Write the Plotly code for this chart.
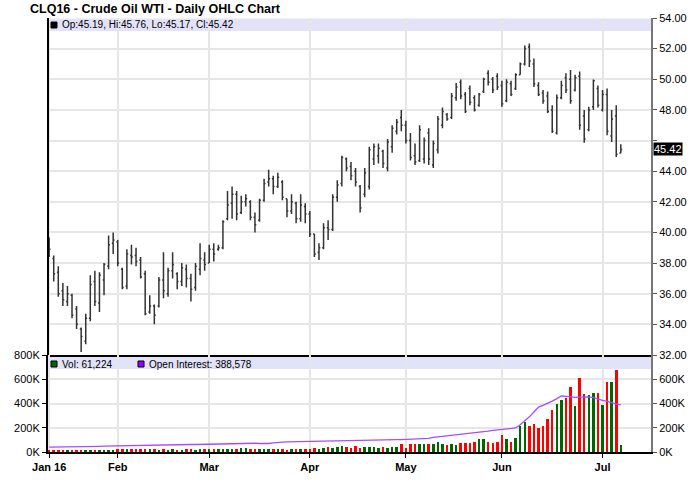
import pandas as pd
import plotly.graph_objects as go

# ---------------- data ----------------
holidays = ["2016-01-18", "2016-02-15", "2016-03-25", "2016-05-30", "2016-07-04"]
dates = [d.strftime("%Y-%m-%d") for d in pd.bdate_range("2016-01-08", "2016-07-08")
         if d.strftime("%Y-%m-%d") not in holidays]

opens = [39.5, 38.3, 37.4, 36.2, 35.5, 35.9, 35.0, 33.7, 32.9, 34.4, 36.8, 35.4, 36.9, 37.8, 39.3,
         39.4, 37.6, 36.5, 38.5, 38.5, 38.2, 37.3, 34.8, 35.2, 35.2, 36.9, 36.0, 37.5, 37.3, 36.8,
         37.6, 37.0, 36.4, 37.6, 38.2, 38.0, 38.9, 38.9, 39.0, 40.9, 41.9, 42.5, 41.3, 42.0, 42.0,
         41.0, 40.8, 42.1, 43.3, 43.5, 43.0, 43.3, 42.2, 41.4, 41.9, 40.9, 41.7, 41.2, 39.9, 38.7,
         39.0, 40.3, 40.2, 42.3, 43.2, 44.8, 44.3, 44.0, 43.0, 42.5, 43.0, 44.8, 45.0, 45.3, 44.2,
         45.6, 46.6, 47.5, 47.0, 46.0, 45.0, 44.7, 44.8, 46.5, 44.4, 45.4, 47.0, 47.7, 47.5, 48.8,
         49.8, 49.0, 49.4, 48.8, 48.3, 49.2, 50.4, 50.0, 50.2, 49.6, 48.6, 49.7, 49.4, 50.3, 51.0,
         52.1, 51.0, 49.6, 49.1, 48.9, 48.0, 46.5, 48.8, 50.1, 50.0, 49.3, 50.2, 47.6, 46.7, 48.2,
         49.4, 48.0, 49.0, 46.3, 47.6, 45.19]
highs = [39.67, 38.5, 37.8, 36.7, 36.5, 36.0, 35.2, 33.8, 34.7, 37.2, 37.5, 37.4, 38.0, 39.8, 40.0,
         39.5, 37.7, 38.9, 39.2, 39.0, 38.4, 37.5, 35.9, 35.3, 37.1, 38.7, 37.7, 38.7, 37.4, 38.0,
         37.9, 37.3, 38.0, 39.3, 38.7, 39.2, 39.3, 39.2, 40.8, 42.7, 43.0, 42.7, 42.4, 42.5, 42.1,
         41.3, 42.2, 43.5, 44.1, 43.7, 43.9, 43.4, 42.2, 42.5, 42.0, 42.5, 41.9, 41.4, 39.9, 39.3,
         40.6, 40.8, 42.5, 43.4, 45.0, 44.9, 44.6, 44.2, 43.1, 44.2, 45.6, 45.8, 45.8, 45.4, 46.1,
         47.0, 47.4, 48.0, 47.3, 46.5, 45.8, 47.0, 46.2, 46.8, 46.0, 47.6, 48.15, 47.8, 49.1, 49.76,
         49.98, 49.17, 49.6, 48.96, 49.1, 50.1, 50.59, 50.15, 50.4, 49.9, 50.0, 49.9, 50.4, 51.1, 52.2,
         52.33, 51.35, 49.8, 49.3, 49.2, 48.3, 49.0, 49.9, 50.4, 50.6, 50.3, 50.5, 48.0, 48.2, 49.98,
         49.6, 49.3, 49.4, 48.0, 48.3, 45.76]
lows = [38.4, 36.8, 35.8, 35.2, 35.2, 34.4, 33.7, 32.2, 32.7, 34.2, 35.2, 34.8, 35.9, 37.6, 38.6,
        37.8, 36.3, 36.3, 37.9, 37.8, 37.0, 34.6, 34.7, 34.0, 35.1, 35.7, 35.8, 37.0, 36.3, 36.5,
        36.4, 35.5, 36.2, 37.2, 37.5, 38.0, 38.1, 38.8, 38.9, 40.8, 40.9, 40.8, 41.2, 41.7, 40.8,
        40.0, 40.7, 42.0, 43.0, 42.5, 42.9, 42.1, 41.0, 41.2, 40.6, 40.7, 40.6, 39.7, 38.4, 38.2,
        38.9, 39.5, 40.1, 42.0, 43.0, 44.0, 43.4, 43.0, 41.3, 42.3, 42.8, 44.4, 44.5, 44.2, 44.0,
        45.2, 46.4, 46.6, 45.8, 44.7, 44.4, 44.6, 44.5, 44.4, 44.2, 45.15, 46.8, 47.3, 47.4, 48.6,
        48.7, 47.8, 48.3, 47.9, 48.2, 49.1, 49.6, 49.1, 49.3, 48.2, 48.5, 48.9, 49.3, 50.3, 50.9,
        50.8, 49.5, 48.9, 48.4, 47.8, 46.5, 46.4, 48.7, 49.1, 48.4, 49.2, 46.7, 45.85, 46.6, 48.0,
        48.15, 47.9, 46.35, 45.9, 44.93, 45.17]
closes = [38.9, 37.3, 36.0, 35.6, 36.0, 34.6, 34.0, 33.2, 34.4, 36.6, 35.5, 37.2, 37.9, 39.2, 39.5,
          38.0, 36.4, 38.6, 38.4, 38.1, 37.1, 34.7, 35.2, 34.6, 36.9, 36.2, 37.5, 37.9, 36.8, 37.7,
          37.0, 36.3, 37.8, 38.3, 37.9, 38.9, 38.6, 39.0, 40.7, 41.8, 42.5, 41.2, 42.0, 42.2, 41.0,
          40.5, 42.1, 43.2, 43.5, 43.0, 43.6, 42.3, 41.4, 42.0, 40.9, 41.8, 41.2, 39.9, 38.6, 39.0,
          40.3, 40.2, 42.3, 43.1, 44.9, 44.2, 43.7, 43.3, 41.6, 43.9, 45.4, 45.6, 45.5, 44.5, 45.9,
          46.8, 47.2, 47.0, 46.0, 44.9, 44.6, 46.7, 46.0, 44.8, 45.8, 47.4, 47.9, 47.4, 48.9, 49.5,
          48.9, 47.9, 48.5, 48.0, 49.0, 50.0, 49.8, 49.3, 49.5, 48.4, 49.8, 49.0, 50.3, 51.0, 52.0,
          51.2, 49.7, 49.0, 48.6, 47.9, 46.6, 48.8, 49.6, 49.3, 48.6, 50.1, 47.0, 46.1, 48.0, 49.9,
          48.3, 49.0, 46.6, 47.4, 45.1, 45.42]

# volume (contracts)
volume = [12000, 14000, 13000, 18000, 12000, 15000, 16000, 14000, 12000, 14000, 16000, 15000, 13000, 17000, 15000,
          22000, 23000, 22000, 24000, 24000, 23000, 24000, 22000, 21000, 20000, 21000, 20000, 23000, 19000, 20000,
          21000, 22000, 20000, 21000, 22000, 26000, 24000, 26000, 28000, 25000, 27000, 28000, 30000, 30000, 22000,
          24000, 26000, 22000, 28000, 24000, 22000, 23000, 18000, 22000, 23000, 24000, 25000, 26000, 30000, 28000,
          36000, 42000, 34000, 45000, 47000, 42000, 31000, 52000, 36000, 42000, 42000, 42000, 29000, 42000, 36000,
          42000, 42000, 63000, 36000, 63000, 63000, 70000, 70000, 70000, 63000, 86000, 70000, 57000, 63000, 57000,
          78000, 78000, 78000, 86000, 104000, 104000, 86000, 73000, 86000, 138000, 104000, 86000, 117000, 211000, 250000,
          214000, 230000, 198000, 216000, 274000, 350000, 396000, 433000, 446000, 537000, 381000, 613000, 477000, 469000, 485000,
          485000, 391000, 576000, 576000, 673000, 61224]

# open interest
open_interest = [41000, 41000, 42000, 42000, 43000, 43000, 44000, 44000, 45000, 45000, 46000, 47000, 48000, 49000, 50000,
                 52000, 53000, 54000, 55000, 55000, 56000, 57000, 57000, 58000, 58000, 59000, 59000, 60000, 60000, 61000,
                 61000, 62000, 62000, 63000, 64000, 66000, 67000, 68000, 69000, 70000, 71000, 72000, 73000, 74000, 74000,
                 72000, 70000, 69000, 70000, 75000, 80000, 82000, 83000, 84000, 85000, 86000, 87000, 89000, 90000, 90000,
                 91000, 91000, 92000, 93000, 94000, 95000, 96000, 97000, 98000, 98000, 99000, 99000, 100000, 100000, 101000,
                 101000, 102000, 102000, 104000, 105000, 106000, 107000, 108000, 113000, 120000, 124000, 128000, 132000, 136000, 140000,
                 144000, 148000, 152000, 156000, 161000, 166000, 172000, 178000, 183000, 188000, 192000, 195000, 198000, 225000, 255000,
                 290000, 330000, 370000, 385000, 400000, 420000, 440000, 462000, 458000, 451000, 450000, 452000, 455000, 455000, 448000,
                 435000, 425000, 417000, 405000, 395000, 388578]

month_ticks = ["2016-01-08", "2016-02-01", "2016-03-01", "2016-04-01", "2016-05-02", "2016-06-01", "2016-07-01"]
month_labels = ["Jan 16", "Feb", "Mar", "Apr", "May", "Jun", "Jul"]
price_ticks = [32, 34, 36, 38, 40, 42, 44, 46, 48, 50, 52, 54]
vol_ticks_left = [0, 200000, 400000, 600000, 800000]
vol_ticks_right = [0, 200000, 400000, 600000]

# ---------------- figure ----------------
FONT = "Liberation Sans, Arial, sans-serif"
GRID = "#e6e6e6"
RED = "#ff0000"
GREEN = "#006600"
PURPLE = "#a64dff"

vol_colors = [GREEN if c >= o else RED for o, c in zip(opens, closes)]
last_close = closes[-1]
# the last-close marker hides the neighbouring tick label
price_text = ["" if abs(p - last_close) < 1.0 else "%.2f" % p for p in price_ticks]

fig = go.Figure()
fig.add_trace(go.Ohlc(x=dates, open=opens, high=highs, low=lows, close=closes,
                      increasing=dict(line=dict(color="#333333", width=1.5)),
                      decreasing=dict(line=dict(color="#333333", width=1.5)),
                      tickwidth=0.3, xaxis="x", yaxis="y", showlegend=False, hoverinfo="skip"))
fig.add_trace(go.Bar(x=dates, y=volume, marker=dict(color=vol_colors, line=dict(width=0)),
                     width=0.55, xaxis="x2", yaxis="y2", showlegend=False))
fig.add_trace(go.Scatter(x=dates, y=open_interest, mode="lines",
                         line=dict(color=PURPLE, width=1.3), xaxis="x2", yaxis="y2", showlegend=False))
fig.add_trace(go.Scatter(x=[dates[0]], y=[0], xaxis="x2", yaxis="y3", mode="markers",
                         marker=dict(opacity=0), showlegend=False, hoverinfo="skip"))

split = (452 - 355) / 434.0
xr = [-0.25, 131.6]
tickfont = dict(family=FONT, size=11, color="#000")

fig.update_layout(
    width=688, height=481,
    margin=dict(l=48, r=37, t=18, b=29, autoexpand=False),
    paper_bgcolor="white", plot_bgcolor="white",
    font=dict(family=FONT, size=11, color="#000"),
    title=dict(text="<b>CLQ16 - Crude Oil WTI - Daily OHLC Chart</b>", x=30 / 688, y=1 - 8.5 / 481,
               xanchor="left", yanchor="middle", xref="container", yref="container", automargin=False,
               font=dict(family=FONT, size=12.5, color="#000")),
    bargap=0,
    xaxis=dict(domain=[0, 1], anchor="y", type="category", range=xr, categoryorder="array",
               categoryarray=dates, tickvals=month_ticks, ticktext=month_labels, automargin=False,
               showticklabels=False, showgrid=True, gridcolor=GRID, gridwidth=2,
               showline=True, linecolor="#000", linewidth=2, ticks="",
               rangeslider=dict(visible=False)),
    xaxis2=dict(domain=[0, 1], anchor="y2", type="category", range=xr, matches="x", automargin=False,
                categoryorder="array", categoryarray=dates,
                tickvals=month_ticks, ticktext=["<b>%s</b>" % m for m in month_labels],
                showgrid=True, gridcolor=GRID, gridwidth=2, showline=True, linecolor="#000",
                linewidth=2, ticks="outside", ticklen=4, tickcolor="#000", tickfont=tickfont),
    yaxis=dict(domain=[split, 1], anchor="x", side="right", range=[32, 54], automargin=False,
               tickvals=price_ticks, ticktext=price_text,
               showgrid=True, gridcolor=GRID, gridwidth=2, zeroline=False,
               showline=True, linecolor="#777", linewidth=2, ticks="outside", ticklen=4,
               tickcolor="#555", tickfont=tickfont),
    yaxis2=dict(domain=[0, split], anchor="x2", side="left", range=[0, 800000], automargin=False,
                tickvals=vol_ticks_left, ticktext=["%dK" % (v // 1000) for v in vol_ticks_left],
                showgrid=True, gridcolor=GRID, gridwidth=2, zeroline=False,
                showline=True, linecolor="#000", linewidth=2, ticks="outside", ticklen=4,
                tickcolor="#000", tickfont=tickfont),
    yaxis3=dict(overlaying="y2", anchor="x2", side="right", range=[0, 800000], automargin=False,
                tickvals=vol_ticks_right, ticktext=["%dK" % (v // 1000) for v in vol_ticks_right],
                showgrid=False, zeroline=False, showline=True, linecolor="#777", linewidth=2,
                ticks="outside", ticklen=4, tickcolor="#555", tickfont=tickfont),
)


def py(p):
    return (452 - p) / 434.0


def px(p):
    return (p - 48) / 603.0


shapes = [
    dict(type="rect", xref="paper", yref="paper", x0=0, x1=1, y0=py(31), y1=py(18.5),
         fillcolor="#e2e2f8", line=dict(width=0), layer="below"),
    dict(type="rect", xref="paper", yref="paper", x0=0, x1=1, y0=py(369), y1=py(357),
         fillcolor="#e2e2f8", line=dict(width=0), layer="below"),
    dict(type="line", xref="paper", yref="paper", x0=0, x1=0, y0=split, y1=1,
         line=dict(color="#000", width=2)),
    dict(type="rect", xref="paper", yref="paper", x0=px(51), x1=px(57), y0=py(28), y1=py(22),
         fillcolor="#000", line=dict(color="#000", width=1)),
    dict(type="rect", xref="paper", yref="paper", x0=px(51), x1=px(57), y0=py(367), y1=py(361),
         fillcolor=GREEN, line=dict(color="#000", width=1)),
    dict(type="rect", xref="paper", yref="paper", x0=px(138), x1=px(144), y0=py(367), y1=py(361),
         fillcolor="#9900ff", line=dict(color="#000", width=1)),
]
fig.update_layout(shapes=shapes)

annots = [
    dict(text="Op:%.2f, Hi:%.2f, Lo:%.2f, Cl:%.2f" % (opens[-1], highs[-1], lows[-1], closes[-1]),
         xref="paper", yref="paper", x=px(60), y=py(25), xanchor="left", yanchor="middle",
         showarrow=False, font=dict(family=FONT, size=10, color="#000")),
    dict(text="Vol: {:,}".format(volume[-1]), xref="paper", yref="paper", x=px(60), y=py(364),
         xanchor="left", yanchor="middle", showarrow=False, font=dict(family=FONT, size=10, color="#000")),
    dict(text="Open Interest: {:,}".format(open_interest[-1]), xref="paper", yref="paper", x=px(147),
         y=py(364), xanchor="left", yanchor="middle", showarrow=False,
         font=dict(family=FONT, size=10, color="#000")),
    dict(text="%.2f" % last_close, xref="paper", yref="y", x=1, y=last_close, xanchor="left",
         yanchor="middle", xshift=2, showarrow=False, bgcolor="#000", borderpad=0,
         font=dict(family=FONT, size=11, color="#fff")),
]
fig.update_layout(annotations=annots)

fig.write_html("out.html", config={"displayModeBar": False},
               post_script="document.body.style.margin='0';document.body.style.padding='0';"
                           "document.body.style.overflow='hidden';")
